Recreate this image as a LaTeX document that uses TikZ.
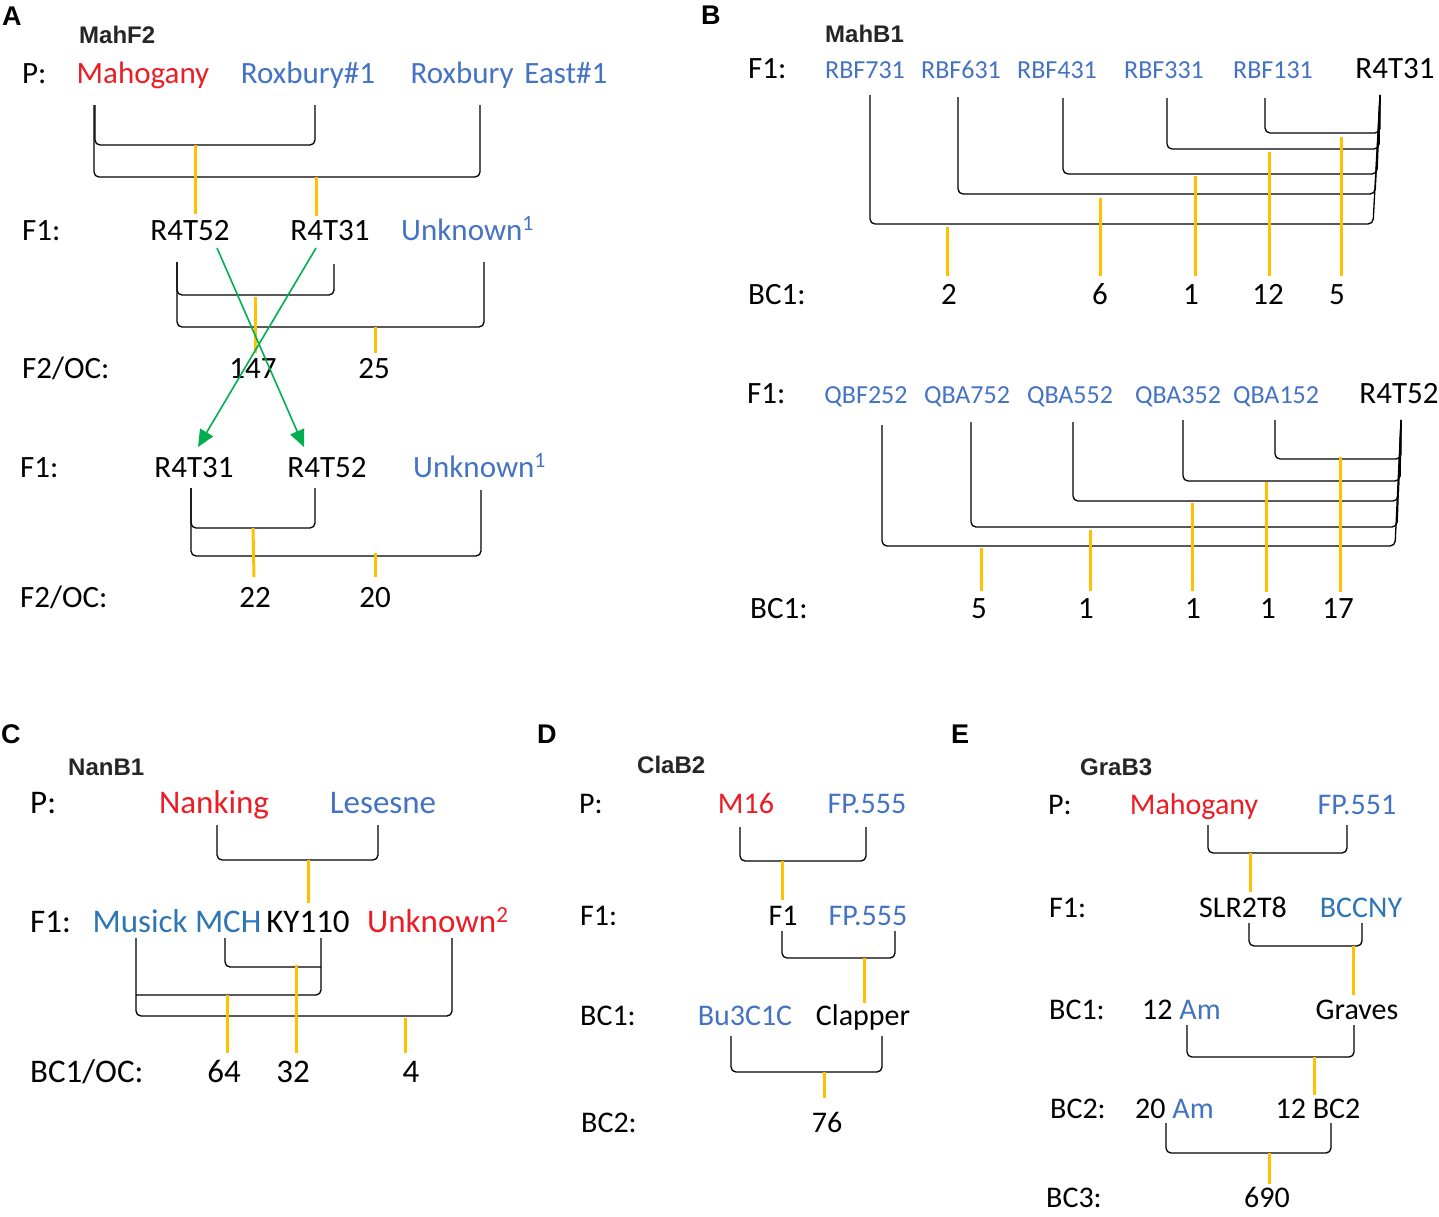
\documentclass[tikz,border=0pt]{standalone}
\usepackage{fontspec}
\setmainfont{Carlito}
\newfontfamily\headfont{Liberation Sans}
\usetikzlibrary{arrows.meta}

\definecolor{redline}{RGB}{237,28,36}
\definecolor{blueline}{HTML}{4472C4}
\definecolor{bluedark}{HTML}{2E75B6}
\definecolor{gold}{HTML}{FFC000}
\definecolor{grn}{HTML}{00B050}

\tikzset{
  txt/.style={anchor=base, inner sep=0pt, font=\fontsize{30}{36}\selectfont},
  txtbig/.style={txt, font=\fontsize{31}{37}\selectfont},
  txtc/.style={txt, font=\fontsize{33}{39}\selectfont},
  txtsml/.style={txt, font=\fontsize{26}{31}\selectfont, text=blueline},
  gen/.style={anchor=base west},
  ptitle/.style={anchor=base west, inner sep=0pt, font=\headfont\bfseries\fontsize{24}{28}\selectfont, text=black!85},
  panel/.style={anchor=base west, inner sep=0pt, font=\headfont\bfseries\fontsize{27}{31}\selectfont},
  brk/.style={draw=black, line width=1.3pt, rounded corners=5pt},
  cross/.style={draw=gold, line width=3pt},
  swaparrow/.style={draw=grn, line width=1.6pt, -{Triangle[length=17pt,width=15pt]}},
}

\begin{document}
\begin{tikzpicture}[x=1pt, y=-1pt]
  \useasboundingbox (0,0) rectangle (1439,1216);
  \clip (0,0) rectangle (1439,1216);

  % ---------------- Panel A ----------------
  \node[panel] (pA) at (2,25) {A};
  \node[ptitle] (tA) at (79,43) {MahF2};
  \node[txtbig, gen] (aP) at (22,83) {P:};
  \node[txtbig, text=redline] (aMah) at (143,83) {Mahogany};
  \node[txtbig, text=blueline] (aRox) at (308,83) {Roxbury\#1};
  \node[txtbig, text=blueline] (aRoxE) at (509,83) {Roxbury\hspace{0.35em}East\#1};

  \node[txtbig, gen] (aF1) at (22,240) {F1:};
  \node[txtbig] (a52) at (190,240) {R4T52};
  \node[txtbig] (a31) at (330,240) {R4T31};
  \node[txtbig, gen, text=blueline] (aUnk) at (401,240) {Unknown\textsuperscript{1}};

  \node[txtbig, gen] (aF2) at (22,378) {F2/OC:};
  \node[txtbig] (a147) at (253,378) {147};
  \node[txtbig] (a25) at (374,378) {25};

  \node[txtbig, gen] (aF1b) at (20,477) {F1:};
  \node[txtbig] (b31) at (194,477) {R4T31};
  \node[txtbig] (b52) at (327,477) {R4T52};
  \node[txtbig, gen, text=blueline] (bUnk) at (413,477) {Unknown\textsuperscript{1}};

  \node[txtbig, gen] (aF2b) at (20,607) {F2/OC:};
  \node[txtbig] (b22) at (255,607) {22};
  \node[txtbig] (b20) at (375,607) {20};

  % brackets
  \draw[brk] (95,105) -- (95,145) -- (315,145) -- (315,105);
  \draw[brk] (94,105) -- (94,177) -- (480,177) -- (480,105);
  \draw[cross] (195,145) -- (195,214);
  \draw[cross] (316,177) -- (316,216);

  \draw[brk] (177,262) -- (177,295) -- (334,295) -- (334,264);
  \draw[brk] (177,262) -- (177,327) -- (484,327) -- (484,262);
  \draw[cross] (255,297) -- (255,353);
  \draw[cross] (375,327) -- (375,353);

  % swapped F1 parents
  \draw[swaparrow] (217,248) -- (304,447);
  \draw[swaparrow] (316,248) -- (198,447);

  \draw[brk] (191,488) -- (191,528) -- (315,528) -- (315,488);
  \draw[brk] (191,488) -- (191,556) -- (481,556) -- (481,490);
  \draw[cross] (253,528) -- (254,577);
  \draw[cross] (375,553) -- (375,577);

  % ---------------- Panel B ----------------
  \node[panel] (pB) at (701,24) {B};
  \node[ptitle] (tB) at (825,42) {MahB1};
  \node[txtbig, gen] (bF1) at (748,78) {F1:};
  \node[txtsml] (r731) at (865,78) {RBF731};
  \node[txtsml] (r631) at (961,78) {RBF631};
  \node[txtsml] (r431) at (1057,78) {RBF431};
  \node[txtsml] (r331) at (1164,78) {RBF331};
  \node[txtsml] (r131) at (1273,78) {RBF131};
  \node[txtbig] (rR31) at (1395,78) {R4T31};

  \draw[brk] (1265,98) -- (1265,133) -- (1380,133) -- (1380,95);
  \draw[brk] (1167,98) -- (1167,149) -- (1379,149) -- (1380,95);
  \draw[brk] (1063,98) -- (1063,174) -- (1377,174) -- (1380,95);
  \draw[brk] (958,97) -- (958,194) -- (1375,194) -- (1380,95);
  \draw[brk] (870,95) -- (870,224) -- (1373,224) -- (1380,95);

  \draw[cross] (947,227) -- (947,276);
  \draw[cross] (1100,198) -- (1100,276);
  \draw[cross] (1195,176) -- (1195,276);
  \draw[cross] (1269,152) -- (1269,276);
  \draw[cross] (1341,137) -- (1341,276);

  \node[txtbig, gen] (bBC1) at (748,304) {BC1:};
  \node[txtbig] (n2) at (949,304) {2};
  \node[txtbig] (n6) at (1100,304) {6};
  \node[txtbig] (n1) at (1191,304) {1};
  \node[txtbig] (n12) at (1268,304) {12};
  \node[txtbig] (n5) at (1337,304) {5};

  \node[txtbig, gen] (bF1b) at (747,403) {F1:};
  \node[txtsml] (q252) at (866,403) {QBF252};
  \node[txtsml] (q752) at (967,403) {QBA752};
  \node[txtsml] (q552) at (1070,403) {QBA552};
  \node[txtsml] (q352) at (1178,403) {QBA352};
  \node[txtsml] (q152) at (1276,403) {QBA152};
  \node[txtbig] (qR52) at (1399,403) {R4T52};

  \draw[brk] (1275,420) -- (1275,459) -- (1401,459) -- (1401,420);
  \draw[brk] (1183,420) -- (1183,481) -- (1400,481) -- (1401,420);
  \draw[brk] (1073,422) -- (1073,501) -- (1398,501) -- (1401,420);
  \draw[brk] (971,422) -- (971,527) -- (1397,527) -- (1401,420);
  \draw[brk] (882,425) -- (882,546) -- (1395,546) -- (1401,420);

  \draw[cross] (981,548) -- (981,591);
  \draw[cross] (1090,530) -- (1090,591);
  \draw[cross] (1192,503) -- (1192,591);
  \draw[cross] (1266,482) -- (1266,592);
  \draw[cross] (1340,457) -- (1340,592);

  \node[txtbig, gen] (bBC1b) at (750,618) {BC1:};
  \node[txtbig] (m5) at (979,618) {5};
  \node[txtbig] (m1a) at (1086,618) {1};
  \node[txtbig] (m1b) at (1193,618) {1};
  \node[txtbig] (m1c) at (1268,618) {1};
  \node[txtbig] (m17) at (1338,618) {17};

  % ---------------- Panel C ----------------
  \node[panel] (pC) at (1,743) {C};
  \node[ptitle] (tC) at (68,775) {NanB1};
  \node[txtc, gen] (cP) at (30,813) {P:};
  \node[txtc, text=redline] (cNan) at (214,813) {Nanking};
  \node[txtc, text=blueline] (cLes) at (383,813) {Lesesne};
  \draw[brk] (217,825) -- (217,860) -- (378,860) -- (378,825);
  \draw[cross] (308,860) -- (308,903);

  \node[txtc, gen] (cF1) at (30,932) {F1:};
  \node[txtc, text=bluedark] (cMus) at (177,932) {Musick MCH};
  \node[txtc] (cKY) at (308,932) {KY110};
  \node[txtc, gen, text=redline] (cUnk) at (367,932) {Unknown\textsuperscript{2}};

  \draw[brk] (225,938) -- (225,967) -- (321,967);
  \draw[brk] (321,938) -- (321,995) -- (136,995);
  \draw[brk] (136,938) -- (136,1016) -- (452,1016) -- (452,938);
  \draw[cross] (227,995) -- (227,1053);
  \draw[cross] (296,965) -- (296,1053);
  \draw[cross] (405,1018) -- (405,1053);

  \node[txtc, gen] (cBC1) at (30,1082) {BC1/OC:};
  \node[txtc] (c64) at (224,1082) {64};
  \node[txtc] (c32) at (293,1082) {32};
  \node[txtc] (c4) at (411,1082) {4};

  % ---------------- Panel D ----------------
  \node[panel] (pD) at (537,743) {D};
  \node[ptitle] (tD) at (637,773) {ClaB2};
  \node[txt, gen] (dP) at (579,813) {P:};
  \node[txt, text=redline] (dM16) at (746,813) {M16};
  \node[txt, text=blueline] (dFP) at (867,813) {FP.555};
  \draw[brk] (740,827) -- (740,861) -- (866,861) -- (866,827);
  \draw[cross] (782,861) -- (782,900);

  \node[txt, gen] (dF1) at (580,925) {F1:};
  \node[txt] (dF) at (783,925) {F1};
  \node[txt, text=blueline] (dFPb) at (868,925) {FP.555};
  \draw[brk] (782,931) -- (782,958) -- (895,958) -- (895,931);
  \draw[cross] (864,958) -- (864,1003);

  \node[txt, gen] (dBC1) at (580,1025) {BC1:};
  \node[txt, text=blueline] (dBu) at (745,1025) {Bu3C1C};
  \node[txt] (dCla) at (863,1025) {Clapper};
  \draw[brk] (731,1036) -- (731,1072) -- (882,1072) -- (882,1036);
  \draw[cross] (824,1072) -- (824,1098);

  \node[txt, gen] (dBC2) at (581,1132) {BC2:};
  \node[txt] (d76) at (827,1132) {76};

  % ---------------- Panel E ----------------
  \node[panel] (pE) at (951,743) {E};
  \node[ptitle] (tE) at (1080,775) {GraB3};
  \node[txt, gen] (eP) at (1048,814) {P:};
  \node[txt, text=redline] (eMah) at (1194,814) {Mahogany};
  \node[txt, text=blueline] (eFP) at (1357,814) {FP.551};
  \draw[brk] (1208,825) -- (1208,853) -- (1347,853) -- (1347,825);
  \draw[cross] (1250,853) -- (1250,892);

  \node[txt, gen] (eF1) at (1049,917) {F1:};
  \node[txt] (eSLR) at (1243,917) {SLR2T8};
  \node[txt, text=bluedark] (eBCC) at (1361,917) {BCCNY};
  \draw[brk] (1249,923) -- (1249,946) -- (1362,946) -- (1362,923);
  \draw[cross] (1353,946) -- (1353,995);

  \node[txt, gen] (eBC1) at (1049,1019) {BC1:};
  \node[txt, gen] (e12Am) at (1142,1019) {12 \textcolor{blueline}{Am}};
  \node[txt] (eGra) at (1357,1019) {Graves};
  \draw[brk] (1187,1025) -- (1187,1057) -- (1354,1057) -- (1354,1025);
  \draw[cross] (1314,1057) -- (1314,1095);

  \node[txt, gen] (eBC2) at (1050,1118) {BC2:};
  \node[txt, gen] (e20Am) at (1135,1118) {20 \textcolor{blueline}{Am}};
  \node[txt] (e12BC) at (1318,1118) {12 BC2};
  \draw[brk] (1166,1123) -- (1166,1153) -- (1331,1153) -- (1331,1123);
  \draw[cross] (1269,1153) -- (1269,1184);

  \node[txt, gen] (eBC3) at (1046,1207) {BC3:};
  \node[txt] (e690) at (1267,1207) {690};
\end{tikzpicture}
\end{document}
